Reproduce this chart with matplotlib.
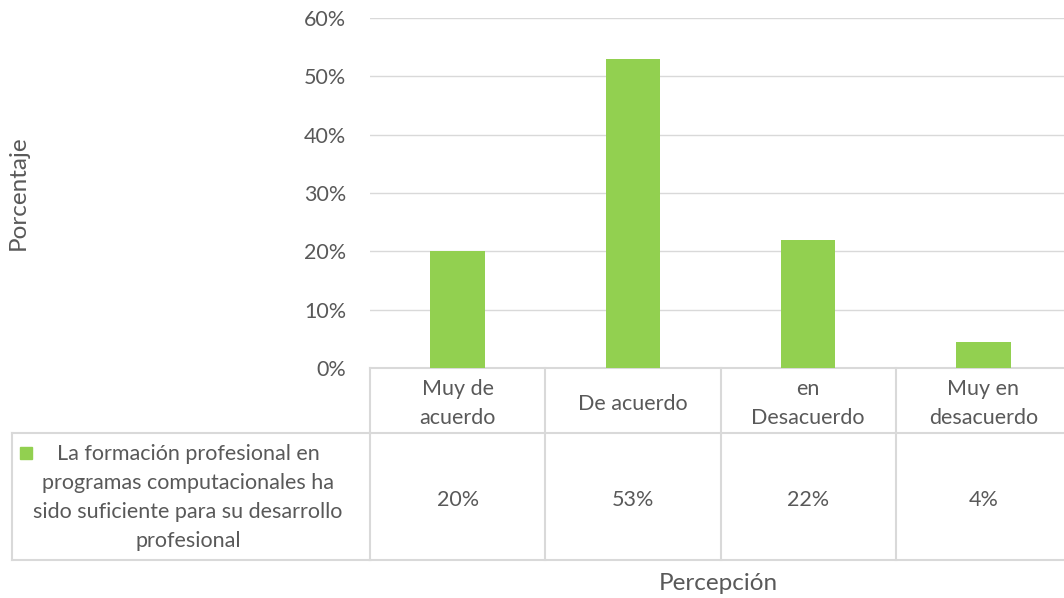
import matplotlib.pyplot as plt
from matplotlib.lines import Line2D
from matplotlib.patches import Rectangle
from matplotlib.transforms import blended_transform_factory

# datos del grafico
categorias = ["Muy de\nacuerdo", "De acuerdo", "en\nDesacuerdo", "Muy en\ndesacuerdo"]
valores = [0.201, 0.530, 0.220, 0.044]
etiquetas_tabla = ["20%", "53%", "22%", "4%"]
serie = "La formación profesional en\nprogramas computacionales ha\nsido suficiente para su desarrollo\nprofesional"
yticks = [0, 0.1, 0.2, 0.3, 0.4, 0.5, 0.6]
ytick_labels = ["0%", "10%", "20%", "30%", "40%", "50%", "60%"]

VERDE = "#92D050"
GRIS_TXT = "#595959"
GRIS_LIN = "#D9D9D9"
W, H, DPI = 1064, 598, 100
FS = 15.5      # texto de tabla y ejes
FS_TIT = 17.5  # titulos de ejes

plt.rcParams['font.family'] = ['Lato', 'DejaVu Sans']

fig = plt.figure(figsize=(W / DPI, H / DPI), dpi=DPI)
# area de trazado en pixeles: x 370..1071, y 18..368
ax = fig.add_axes([370 / W, 1 - 368 / H, 701 / W, 350 / H])

x = list(range(len(valores)))
ax.bar(x, valores, width=0.31, color=VERDE, zorder=3)
ax.set_xlim(-0.5, len(valores) - 0.5)
ax.set_ylim(0, 0.6)
ax.set_yticks(yticks)
ax.set_yticklabels(ytick_labels, color=GRIS_TXT, fontsize=FS)
ax.tick_params(axis='y', length=0, pad=17)
ax.set_xticks([])
ax.grid(axis='y', color=GRIS_LIN, linewidth=1, zorder=0)
for s in ax.spines.values():
    s.set_visible(False)

# tabla de datos debajo del grafico
tr = blended_transform_factory(ax.transData, ax.transAxes)
fr = fig.transFigure
y_top, y_mid, y_bot = 0.0, -65 / 350, -192 / 350
left_fig = 12 / W
lc = dict(color=GRIS_LIN, linewidth=1.5, clip_on=False)

# lineas horizontales
ax.add_line(Line2D([-0.5, len(valores) - 0.5], [y_top, y_top], transform=tr, **lc))
for yy in (y_mid, y_bot):
    ax.add_line(Line2D([-0.5, len(valores) - 0.5], [yy, yy], transform=tr, **lc))
    y_fig = fr.inverted().transform(tr.transform((0, yy)))[1]
    x0 = fr.inverted().transform(tr.transform((-0.5, 0)))[0]
    fig.add_artist(Line2D([left_fig, x0], [y_fig, y_fig], color=GRIS_LIN, linewidth=1.5))

# lineas verticales
for i in range(len(valores)):
    ax.add_line(Line2D([i - 0.5, i - 0.5], [y_top, y_bot], transform=tr, **lc))
y_mid_fig = fr.inverted().transform(tr.transform((0, y_mid)))[1]
y_bot_fig = fr.inverted().transform(tr.transform((0, y_bot)))[1]
fig.add_artist(Line2D([left_fig, left_fig], [y_mid_fig, y_bot_fig], color=GRIS_LIN, linewidth=1.5))

# textos de categorias y valores
off = -3 / 350
for i, (cat, lab) in enumerate(zip(categorias, etiquetas_tabla)):
    ax.text(i, (y_top + y_mid) / 2 + off, cat, transform=tr, ha='center', va='center',
            fontsize=FS, color=GRIS_TXT, linespacing=1.6)
    ax.text(i, (y_mid + y_bot) / 2 + off, lab, transform=tr, ha='center', va='center',
            fontsize=FS, color=GRIS_TXT)

# leyenda en la tabla
x0_fig = fr.inverted().transform(tr.transform((-0.5, 0)))[0]
fig.text((left_fig + x0_fig) / 2 - 3 / W, (y_mid_fig + y_bot_fig) / 2 - 1 / H, serie,
         ha='center', va='center', fontsize=FS, color=GRIS_TXT, linespacing=1.55)
fig.add_artist(Rectangle((20 / W, 1 - 459 / H), 12 / W, 12 / H,
                         transform=fr, color=VERDE))

fig.text(18 / W, 1 - 193 / H, "Porcentaje", rotation=90, ha='center', va='center',
         fontsize=FS_TIT, color=GRIS_TXT)
fig.text(718 / W, 1 - 584 / H, "Percepción", ha='center', va='center',
         fontsize=FS_TIT, color=GRIS_TXT)

fig.savefig("out.png", dpi=DPI)
